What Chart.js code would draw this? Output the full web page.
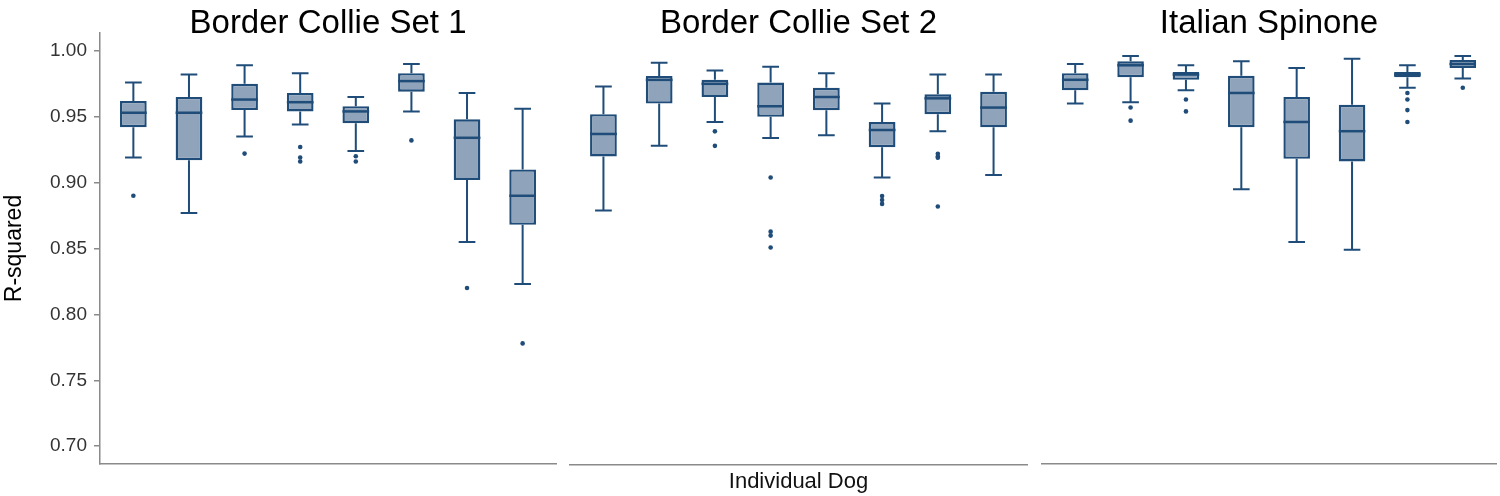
<!DOCTYPE html>
<html>
<head>
<meta charset="utf-8">
<script src="https://cdn.jsdelivr.net/npm/chart.js@4"></script>
<style>
  html, body { margin: 0; padding: 0; background: #fff; }
  body { width: 1500px; height: 496px; position: relative; overflow: hidden; }
  .panel { position: absolute; top: 0; height: 496px; }
</style>
</head>
<body>
<div class="panel" id="p1" style="left:0px;width:560px"><canvas id="chart1"></canvas></div>
<div class="panel" id="p2" style="left:566px;width:466px"><canvas id="chart2"></canvas></div>
<div class="panel" id="p3" style="left:1038px;width:462px"><canvas id="chart3"></canvas></div>
<script>
// dogs on each panel (x positions 1..8)
const dogLabels = [1, 2, 3, 4, 5, 6, 7, 8];
const yTicks = [0.70, 0.75, 0.80, 0.85, 0.90, 0.95, 1.00];

// Border Collie Set 1
const bc1Lower = [0.919, 0.877, 0.935, 0.944, 0.924, 0.954, 0.855, 0.823];
const bc1Q1 = [0.942, 0.917, 0.955, 0.954, 0.945, 0.969, 0.902, 0.868];
const bc1Median = [0.953, 0.953, 0.963, 0.961, 0.954, 0.977, 0.934, 0.890];
const bc1Q3 = [0.962, 0.965, 0.975, 0.968, 0.958, 0.983, 0.948, 0.910];
const bc1Upper = [0.976, 0.982, 0.989, 0.983, 0.965, 0.990, 0.968, 0.956];
const bc1Outliers = [[0.890], [], [0.922], [0.927, 0.919, 0.916], [0.920, 0.916], [0.932], [0.820], [0.778]];

// Border Collie Set 2
const bc2Lower = [0.879, 0.928, 0.946, 0.934, 0.936, 0.904, 0.939, 0.906];
const bc2Q1 = [0.920, 0.960, 0.965, 0.950, 0.955, 0.927, 0.952, 0.942];
const bc2Median = [0.937, 0.978, 0.975, 0.958, 0.965, 0.940, 0.964, 0.957];
const bc2Q3 = [0.952, 0.981, 0.978, 0.976, 0.972, 0.946, 0.967, 0.969];
const bc2Upper = [0.973, 0.991, 0.985, 0.988, 0.983, 0.960, 0.982, 0.982];
const bc2Outliers = [[], [], [0.939, 0.928], [0.904, 0.863, 0.860, 0.851], [], [0.890, 0.887, 0.884], [0.922, 0.920, 0.919, 0.882], []];

// Italian Spinone
const isLower = [0.960, 0.961, 0.970, 0.895, 0.855, 0.849, 0.972, 0.979];
const isQ1 = [0.970, 0.980, 0.978, 0.942, 0.918, 0.916, 0.980, 0.987];
const isMedian = [0.978, 0.989, 0.982, 0.968, 0.946, 0.939, 0.982, 0.990];
const isQ3 = [0.983, 0.992, 0.984, 0.981, 0.965, 0.959, 0.984, 0.993];
const isUpper = [0.990, 0.996, 0.989, 0.992, 0.987, 0.994, 0.989, 0.996];
const isOutliers = [[], [0.957, 0.947], [0.963, 0.954], [], [], [], [0.968, 0.963, 0.955, 0.946], [0.972]];

const boxFill = "rgb(143, 164, 186)";
const boxLine = "rgb(31, 76, 120)";
const axisGrey = "#8a8a8a";

Chart.defaults.font.family = "'Liberation Sans', Arial, sans-serif";
Chart.defaults.color = "#333";

// whiskers, caps and median line, drawn with the chart's own scales
function boxPlugin(lower, median, upper) {
  return {
    id: "boxWhiskers",
    afterDatasetsDraw(chart) {
      const { ctx, scales } = chart;
      const bars = chart.getDatasetMeta(1).data;
      const capHalf = (scales.x.getPixelForValue(1) - scales.x.getPixelForValue(0)) * 0.15;
      ctx.save();
      ctx.strokeStyle = boxLine;
      ctx.lineCap = "butt";
      bars.forEach((bar, i) => {
        const px = bar.x;
        const yLo = scales.y.getPixelForValue(lower[i]);
        const yHi = scales.y.getPixelForValue(upper[i]);
        const yMed = scales.y.getPixelForValue(median[i]);
        const top = Math.min(bar.y, bar.base);
        const bottom = Math.max(bar.y, bar.base);
        ctx.lineWidth = 2;
        ctx.beginPath();
        ctx.moveTo(px, bottom); ctx.lineTo(px, yLo);
        ctx.moveTo(px, top); ctx.lineTo(px, yHi);
        ctx.moveTo(px - capHalf, yLo); ctx.lineTo(px + capHalf, yLo);
        ctx.moveTo(px - capHalf, yHi); ctx.lineTo(px + capHalf, yHi);
        ctx.stroke();
        ctx.lineWidth = 2.5;
        ctx.beginPath();
        ctx.moveTo(px - bar.width / 2, yMed);
        ctx.lineTo(px + bar.width / 2, yMed);
        ctx.stroke();
      });
      ctx.restore();
    },
  };
}

// facet strip title centred over the plot area
function titlePlugin(text) {
  return {
    id: "panelTitle",
    afterDraw(chart) {
      const { ctx, chartArea } = chart;
      ctx.save();
      ctx.font = "33px 'Liberation Sans', Arial, sans-serif";
      ctx.fillStyle = "#000";
      ctx.textAlign = "center";
      ctx.textBaseline = "alphabetic";
      ctx.fillText(text, (chartArea.left + chartArea.right) / 2, 33);
      ctx.restore();
    },
  };
}

function makePanel(canvasId, title, lower, q1, median, q3, upper, outliers, opts) {
  const outlierPoints = [];
  outliers.forEach((vals, i) => {
    vals.forEach((v) => outlierPoints.push({ x: dogLabels[i], y: v }));
  });

  new Chart(document.getElementById(canvasId), {
    type: "bar",
    data: {
      datasets: [
        {
          type: "scatter",
          data: outlierPoints,
          pointRadius: 2.3,
          pointBorderWidth: 0,
          pointBackgroundColor: boxLine,
        },
        {
          type: "bar",
          data: q1.map((v, i) => ({ x: dogLabels[i], y: [v, q3[i]] })),
          backgroundColor: boxFill,
          borderColor: boxLine,
          borderWidth: 2.4,
          borderSkipped: false,
          categoryPercentage: 1,
          barPercentage: 0.48,
        },
      ],
    },
    options: {
      responsive: true,
      maintainAspectRatio: false,
      animation: false,
      layout: { padding: opts.padding },
      plugins: { legend: { display: false }, tooltip: { enabled: false } },
      scales: {
        x: {
          type: "linear",
          min: 0.4,
          max: 8.6,
          offset: false,
          afterBuildTicks: (s) => { s.ticks = dogLabels.map((v) => ({ value: v })); },
          grid: { display: false, drawTicks: false },
          ticks: { display: false },
          border: { display: true, color: axisGrey, width: 1.5 },
          title: opts.xTitle
            ? { display: true, text: "Individual Dog", color: "#111", font: { size: 22 }, padding: { top: 4, bottom: 1 } }
            : { display: false },
          afterFit: opts.xTitle ? undefined : (s) => { s.height = 0; },
        },
        y: {
          display: opts.showY,
          min: 0.6865,
          max: 1.0135,
          afterBuildTicks: (s) => { s.ticks = yTicks.map((v) => ({ value: v })); },
          afterFit: opts.showY ? (s) => { s.width = 100; } : undefined,
          grid: { drawOnChartArea: false, drawTicks: true, tickLength: 6, color: axisGrey, lineWidth: 1.5 },
          border: { display: true, color: axisGrey, width: 1.5 },
          ticks: { font: { size: 19 }, color: "#333", padding: 7, callback: (v) => v.toFixed(2) },
          title: { display: true, text: "R-squared", color: "#000", font: { size: 23 }, padding: { top: 1, bottom: 0 } },
        },
      },
    },
    plugins: [boxPlugin(lower, median, upper), titlePlugin(title)],
  });
}

makePanel("chart1", "Border Collie Set 1", bc1Lower, bc1Q1, bc1Median, bc1Q3, bc1Upper, bc1Outliers,
  { showY: true, xTitle: false, padding: { top: 33, bottom: 32, left: 0, right: 4 } });
makePanel("chart2", "Border Collie Set 2", bc2Lower, bc2Q1, bc2Median, bc2Q3, bc2Upper, bc2Outliers,
  { showY: false, xTitle: true, padding: { top: 33, bottom: 0, left: 4, right: 5 } });
makePanel("chart3", "Italian Spinone", isLower, isQ1, isMedian, isQ3, isUpper, isOutliers,
  { showY: false, xTitle: false, padding: { top: 33, bottom: 32, left: 4, right: 2 } });
</script>
</body>
</html>
